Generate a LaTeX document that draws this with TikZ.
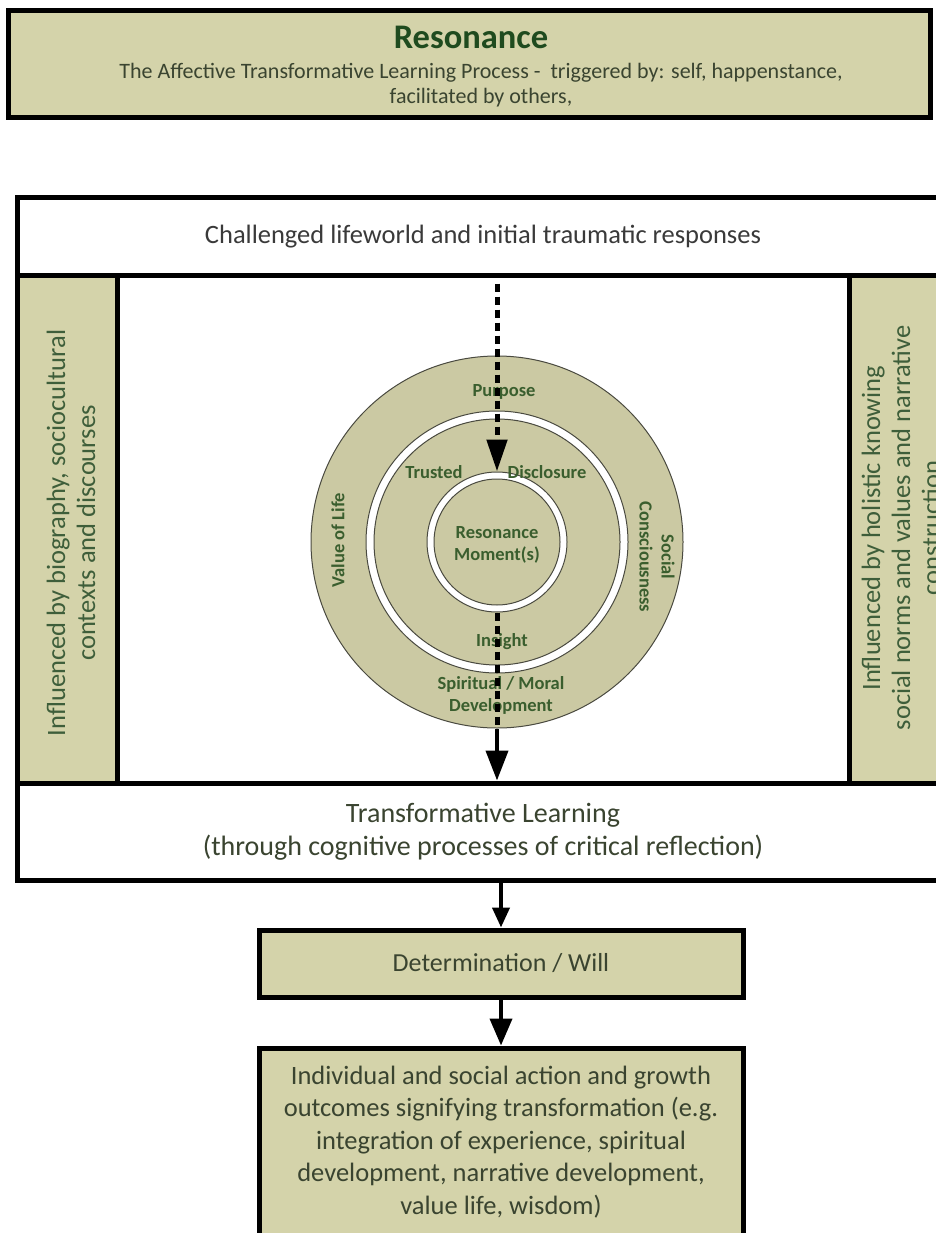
\documentclass[tikz,border=0pt]{standalone}
\usepackage{fontspec}
\setmainfont{Carlito}
\usetikzlibrary{arrows.meta,calc}

\definecolor{khaki}{HTML}{D4D3AA}
\definecolor{ringfill}{HTML}{CBC9A3}
\definecolor{ringline}{HTML}{4A4A40}
\definecolor{titlegreen}{HTML}{1F4B1F}
\definecolor{ringtext}{HTML}{3A5E2E}
\definecolor{sidetext}{HTML}{3E5E3A}
\definecolor{bodytext}{HTML}{3A4430}
\definecolor{graytext}{HTML}{3A3A3A}

\begin{document}
\begin{tikzpicture}[x=1pt,y=-1pt,
  box/.style={draw=black, line width=5pt, rectangle, inner sep=0pt, align=center},
  khakibox/.style={box, fill=khaki},
  whitebox/.style={box, fill=white},
  ring/.style={circle, draw=ringline, line width=1pt, inner sep=0pt},
  ringlabel/.style={font=\fontsize{18.5}{22}\selectfont\bfseries, text=ringtext, align=center, inner sep=0pt},
  sidelabel/.style={font=\fontsize{26.5}{30}\selectfont, text=sidetext, align=center, inner sep=0pt},
  bodylabel/.style={font=\fontsize{26.5}{32.5}\selectfont, text=bodytext, align=center, inner sep=0pt},
  dashline/.style={line width=5pt, dash pattern=on 8pt off 5pt},
  solidline/.style={line width=4pt}
]
\useasboundingbox (0,0) rectangle (936,1233);
\clip (0,0) rectangle (936,1233);
\fill[white] (0,0) rectangle (936,1233);

% title box
\node[khakibox, minimum width=922, minimum height=107] (top) at (469,64) {};
\node[font=\fontsize{34.5}{38}\selectfont\bfseries, text=titlegreen, inner sep=0pt] (title) at (471,37) {Resonance};
\node[font=\fontsize{22}{25.5}\selectfont, text=bodytext, align=center, inner sep=0pt] (subtitle) at (481,85)
  {The Affective Transformative Learning Process -\ \ triggered by: self, happenstance,\\ facilitated by others,};

% outer frame: header, side panels and bottom band
\node[whitebox, minimum width=932, minimum height=77, font=\fontsize{26.5}{30}\selectfont, text=graytext] (hdr) at (483,236.5)
  {\raisebox{-2pt}{Challenged lifeworld and initial traumatic responses}};
\node[whitebox, minimum width=932, minimum height=508] (mid) at (483,529) {};
\node[khakibox, minimum width=100, minimum height=508] (left) at (67,529) {};
\node[khakibox, minimum width=100, minimum height=508] (right) at (899,529) {};
\node[sidelabel, rotate=90] (lefttext) at (71,533)
  {Influenced by biography, sociocultural\\ contexts and discourses};
\node[sidelabel, rotate=90] (righttext) at (901,528)
  {Influenced by holistic knowing\\ social norms and values and narrative\\ construction};
\node[whitebox, minimum width=932, minimum height=97, font=\fontsize{28}{33}\selectfont, text=bodytext] (tl) at (483,831.5)
  {Transformative Learning\\ (through cognitive processes of critical reflection)};

% concentric rings
\node[ring, fill=ringfill, minimum size=372] (outer) at (497,542) {};
\node[ring, fill=white, minimum size=262] (midring) at (outer.center) {};
\node[ring, fill=ringfill, minimum size=246] (middisk) at (outer.center) {};
\node[ring, fill=white, minimum size=140] (inring) at (outer.center) {};
\node[ring, fill=ringfill, minimum size=126] (indisk) at (outer.center) {};

\node[ringlabel] (purpose) at (504,392) {Purpose};
\node[ringlabel] (trusted) at (434,472) {Trusted};
\node[ringlabel] (disclosure) at (547,472) {Disclosure};
\node[ringlabel] (resmoment) at (497,545) {Resonance\\ Moment(s)};
\node[ringlabel] (insight) at (502,642) {Insight};
\node[ringlabel] (spiritual) at (501,695) {Spiritual / Moral\\ Development};
\node[ringlabel, rotate=90] (valuelife) at (338,540) {Value of Life};
\node[ringlabel, rotate=-90] (social) at (657,557) {Social\\ Consciousness};

% flow through the rings
\coordinate (dtop) at ($(outer |- hdr.south)+(0,6)$);
\draw[dashline, -{Triangle[length=32pt,width=20pt]}] (dtop) -- (inring.north);
\draw[dashline] (inring.south) -- (outer.south);
\draw[solidline, -{Triangle[length=30pt,width=22pt]}] (outer.south) -- (outer.south |- tl.north);

% outcome boxes
\node[khakibox, minimum width=484, minimum height=67, font=\fontsize{26}{30}\selectfont, text=bodytext] (det) at (501,963.5)
  {Determination / Will};
\node[khakibox, minimum width=484, minimum height=192] (outcome) at (501,1144) {};
\node[bodylabel] (outtext) at (501,1142)
  {Individual and social action and growth\\ outcomes signifying transformation (e.g.\\ integration of experience, spiritual\\ development, narrative development,\\ value life, wisdom)};

\draw[solidline, -{Triangle[length=20pt,width=17pt]}] (det.north |- tl.south) -- (det.north);
\draw[solidline, -{Triangle[length=27pt,width=22pt]}] (det.south) -- (outcome.north);
\end{tikzpicture}
\end{document}
